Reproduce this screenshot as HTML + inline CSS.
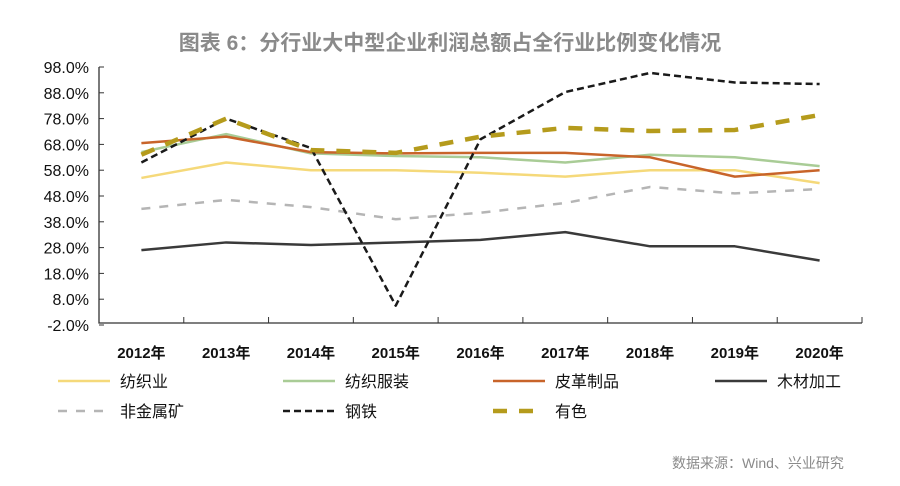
<!DOCTYPE html>
<html><head><meta charset="utf-8"><style>
body{margin:0;background:#fff;}
svg text{font-family:"Liberation Sans","Noto Sans CJK SC",sans-serif;}
</style></head><body>
<svg width="900" height="481" viewBox="0 0 900 481" xmlns="http://www.w3.org/2000/svg">
<text x="450" y="50" text-anchor="middle" font-size="21" font-weight="bold" fill="#8a8a8a">图表 6：分行业大中型企业利润总额占全行业比例变化情况</text>
<g id="axes"></g>
<g id="series"></g>
<g id="legend"></g>
<text x="672" y="468" font-size="14" fill="#8a8a8a">数据来源：Wind、兴业研究</text>
</svg>
<script>
const categories=["2012年","2013年","2014年","2015年","2016年","2017年","2018年","2019年","2020年"];
const yTicks=[98,88,78,68,58,48,38,28,18,8,-2];
const textile=[55,61,58,58,57,55.5,58,58,53];
const apparel=[65,72,64.5,63.5,63,61,64,63,59.6];
const leather=[68.5,71,65,64.5,64.7,64.7,63,55.5,58];
const wood=[27,30,29,30,31,34,28.5,28.5,23];
const nonmetal=[43,46.5,43.7,39,41.5,45.3,51.5,49,50.7];
const steel=[61,78,66.6,5.5,70,88.3,95.7,92,91.4];
const nonferrous=[64,78,65.8,64.7,71,74.4,73.2,73.6,79.4];
const seriesNames=["纺织业","纺织服装","皮革制品","木材加工","非金属矿","钢铁","有色"];

const NS="http://www.w3.org/2000/svg";
const L=99,R=862,T=67,B=325;
function y(v){return B-(v+2)/100*(B-T);}
function x(i){return L+(R-L)/categories.length*(i+0.5);}
function mk(tag,attrs,parent){const e=document.createElementNS(NS,tag);for(const k in attrs)e.setAttribute(k,attrs[k]);parent.appendChild(e);return e;}
const axes=document.getElementById('axes');
let a=mk('path',{d:`M${L} ${T} V${B-2} H${R}`,stroke:'#333',fill:'none','stroke-width':1.3},axes);


yTicks.forEach(v=>{
  const t=mk('line',{x1:L,x2:L+5,y1:y(v),y2:y(v),stroke:'#333'},axes);
  
  
  const tx=mk('text',{x:L-10,y:y(v)+6,'text-anchor':'end','font-size':16,fill:'#111'},axes);
  tx.textContent=v.toFixed(1)+'%';
  
  
});
categories.forEach((c,i)=>{
  const bx=L+(R-L)/categories.length*(i+1);
  const t=mk('line',{x1:bx,x2:bx,y1:B-2,y2:B-8,stroke:'#333'},axes);
  
  
  const tx=mk('text',{x:x(i),y:358,'text-anchor':'middle','font-size':15,'font-weight':'bold',fill:'#111'},axes);
  tx.textContent=c;
  
  
});
const styles=[
 {d:textile,c:'#f5d97a',w:2.5,da:''},
 {d:apparel,c:'#a9cc96',w:2.5,da:''},
 {d:leather,c:'#c8642a',w:2.5,da:''},
 {d:wood,c:'#3a3a3a',w:2.5,da:''},
 {d:nonmetal,c:'#b5b5b5',w:2.5,da:'9 9'},
 {d:steel,c:'#1a1a1a',w:2.5,da:'7 4'},
 {d:nonferrous,c:'#b59b1c',w:4.5,da:'14 12'}
];
const sg=document.getElementById('series');
styles.forEach((s,k)=>{
  const p=mk('polyline',{points:s.d.map((v,i)=>x(i)+','+y(v)).join(' '),fill:'none',stroke:s.c,'stroke-width':s.w,'stroke-dasharray':s.da,'stroke-linejoin':'round'},sg);
  
  
});
const lg=document.getElementById('legend');
const pos=[[58,381],[283,381],[493,381],[715,381],[58,411],[283,411],[493,411]];
styles.forEach((s,k)=>{
  const [lx,ly]=pos[k];
  const l=mk('line',{x1:lx,x2:lx+52,y1:ly,y2:ly,stroke:s.c,'stroke-width':s.w,'stroke-dasharray':s.da},lg);
  
  
  const t=mk('text',{x:lx+62,y:ly+6,'font-size':16,fill:'#111'},lg);
  t.textContent=seriesNames[k];
  
  
});
</script>
</body></html>
